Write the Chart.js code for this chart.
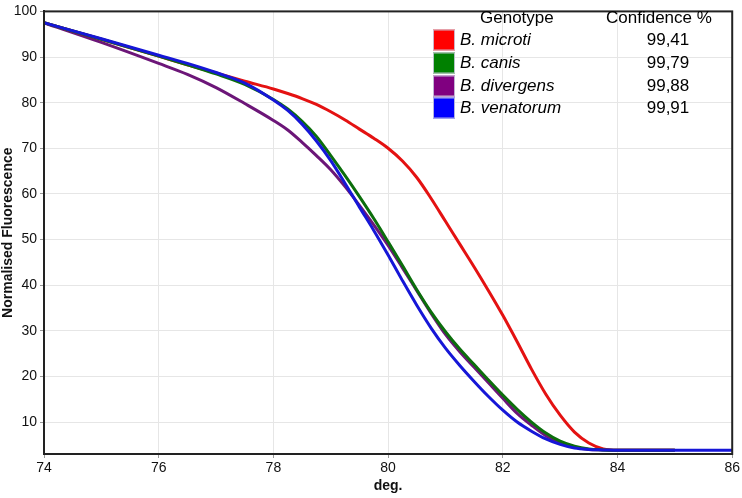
<!DOCTYPE html>
<html>
<head>
<meta charset="utf-8">
<script src="https://cdn.jsdelivr.net/npm/chart.js@4/dist/chart.umd.min.js"></script>
<style>
  html, body { margin: 0; padding: 0; background: #fff; }
  #wrap { width: 742px; height: 498px; }
</style>
</head>
<body>
<div id="wrap"><canvas id="myChart" width="742" height="498"></canvas></div>
<script>
// temperature (deg.) sampled along the melt curves, finer where they drop
const temps = [74, 75, 76, 76.5, 77, 77.5,
               78, 78.25, 78.5, 78.75, 79, 79.25, 79.5, 79.75,
               80, 80.25, 80.5, 80.75, 81, 81.25, 81.5, 81.75,
               82, 82.25, 82.5, 82.75, 83, 83.25, 83.5, 83.75,
               84, 84.5, 85, 85.5, 86];

const microti = [97.5, 93.9, 90.2, 88.3, 86.5, 84.7,
                 83.0, 82.0, 80.9, 79.6, 78.0, 76.2, 74.2, 72.2,
                 70.0, 67.2, 63.6, 59.0, 54.0, 49.0, 44.0, 38.8,
                 33.4, 27.6, 21.6, 16.1, 11.5, 7.8, 5.4, 4.1,
                 3.8, 3.8, 3.8, null, null];
const canis = [97.5, 93.9, 90.2, 88.3, 86.3, 84.0,
               80.7, 78.6, 75.9, 72.6, 68.4, 64.0, 59.4, 54.6,
               49.5, 44.3, 39.0, 34.1, 29.8, 26.0, 22.6, 19.2,
               15.9, 12.8, 10.0, 7.6, 5.8, 4.7, 4.1, 3.9,
               3.8, 3.8, 3.8, null, null];
const divergens = [97.5, 93.2, 88.6, 86.2, 83.3, 79.8,
                   76.1, 74.0, 71.3, 68.4, 65.3, 61.6, 57.5, 53.2,
                   48.7, 43.8, 38.8, 33.8, 29.2, 25.4, 22.0, 18.6,
                   15.2, 11.9, 9.3, 7.0, 5.4, 4.5, 4.0, 3.9,
                   3.8, 3.8, 3.8, null, null];
const venatorum = [97.5, 94.0, 90.4, 88.6, 86.6, 84.3,
                   80.6, 78.3, 75.3, 71.6, 67.3, 62.3, 57.1, 52.0,
                   46.6, 41.0, 35.6, 30.6, 26.2, 22.4, 18.9, 15.6,
                   12.6, 10.0, 8.0, 6.3, 5.1, 4.3, 4.0, 3.9,
                   3.8, 3.8, 3.8, 3.8, 3.8];

const genotypes = ['B. microti', 'B. canis', 'B. divergens', 'B. venatorum'];
const confidence = ['99,41', '99,79', '99,88', '99,91'];
const lineColors = ['rgb(228,18,18)', 'rgb(12,110,12)', 'rgb(108,22,120)', 'rgb(22,22,215)'];
const swatchColors = ['#ff0000', '#008000', '#800080', '#0000ff'];

const xTicks = [74, 76, 78, 80, 82, 84, 86];
const yTicks = [10, 20, 30, 40, 50, 60, 70, 80, 90, 100];

function pts(vals) {
  return temps.map((t, i) => ({ x: t, y: vals[i] }));
}

const series = [microti, canis, divergens, venatorum];
const drawOrder = [3, 2, 4, 1];

const datasets = series.map((s, i) => ({
  label: genotypes[i],
  data: pts(s),
  borderColor: lineColors[i],
  backgroundColor: lineColors[i],
  borderWidth: 3,
  pointRadius: 0,
  cubicInterpolationMode: 'monotone',
  spanGaps: false,
  order: drawOrder[i]
}));

// genotype / confidence table in the top right corner + plot frame
const tablePlugin = {
  id: 'genotypeTable',
  afterDraw(chart) {
    const ctx = chart.ctx;
    const a = chart.chartArea;
    ctx.save();
    ctx.strokeStyle = '#222';
    ctx.lineWidth = 2;
    ctx.strokeRect(a.left, a.top, a.right - a.left, a.bottom - a.top);

    ctx.fillStyle = '#000';
    ctx.textBaseline = 'middle';
    ctx.font = '17px "Liberation Sans", Arial, sans-serif';
    ctx.textAlign = 'left';
    ctx.fillText('Genotype', 480, 18);
    ctx.fillText('Confidence %', 606, 18);

    const rowY = [40, 63, 86, 108];
    for (let i = 0; i < genotypes.length; i++) {
      ctx.fillStyle = swatchColors[i];
      ctx.fillRect(433, rowY[i] - 10.5, 22, 21);
      ctx.strokeStyle = 'rgba(200,200,220,0.9)';
      ctx.lineWidth = 1;
      ctx.strokeRect(433.5, rowY[i] - 10, 21, 20);
      ctx.fillStyle = '#000';
      ctx.textAlign = 'left';
      ctx.font = 'italic 17px "Liberation Sans", Arial, sans-serif';
      ctx.fillText(genotypes[i], 460, rowY[i]);
      ctx.font = '17px "Liberation Sans", Arial, sans-serif';
      ctx.textAlign = 'center';
      ctx.fillText(confidence[i], 668, rowY[i]);
    }
    ctx.restore();
  }
};

const config = {
  type: 'line',
  data: { datasets: datasets },
  options: {
    responsive: false,
    animation: false,
    layout: { padding: { top: 7, right: 7, bottom: 3, left: 0 } },
    plugins: {
      legend: { display: false },
      tooltip: { enabled: false }
    },
    scales: {
      x: {
        type: 'linear',
        min: 74,
        max: 86,
        afterBuildTicks: (scale) => { scale.ticks = xTicks.map(v => ({ value: v })); },
        afterFit: (scale) => { scale.height = 41; },
        grid: { color: '#e6e6e6', lineWidth: 1, tickLength: 4, tickColor: '#999' },
        border: { color: '#222', width: 2 },
        ticks: {
          color: '#111',
          padding: 2,
          maxRotation: 0,
          font: { family: '"Liberation Sans", Arial, sans-serif', size: 14 }
        },
        title: {
          display: true,
          text: 'deg.',
          color: '#111',
          padding: { top: 0, bottom: 0 },
          font: { family: '"Liberation Sans", Arial, sans-serif', size: 14, weight: 'bold' }
        }
      },
      y: {
        type: 'linear',
        min: 3,
        max: 100,
        afterBuildTicks: (scale) => { scale.ticks = yTicks.map(v => ({ value: v })); },
        afterFit: (scale) => { scale.width = 44; },
        grid: { color: '#e6e6e6', lineWidth: 1, tickLength: 4, tickColor: '#999' },
        border: { color: '#222', width: 2 },
        ticks: {
          color: '#111',
          padding: 3,
          font: { family: '"Liberation Sans", Arial, sans-serif', size: 14 }
        },
        title: {
          display: true,
          text: 'Normalised Fluorescence',
          color: '#111',
          padding: { top: 0, bottom: 0 },
          font: { family: '"Liberation Sans", Arial, sans-serif', size: 14, weight: 'bold' }
        }
      }
    }
  },
  plugins: [tablePlugin]
};

const myChart = new Chart(document.getElementById('myChart'), config);
</script>
</body>
</html>
